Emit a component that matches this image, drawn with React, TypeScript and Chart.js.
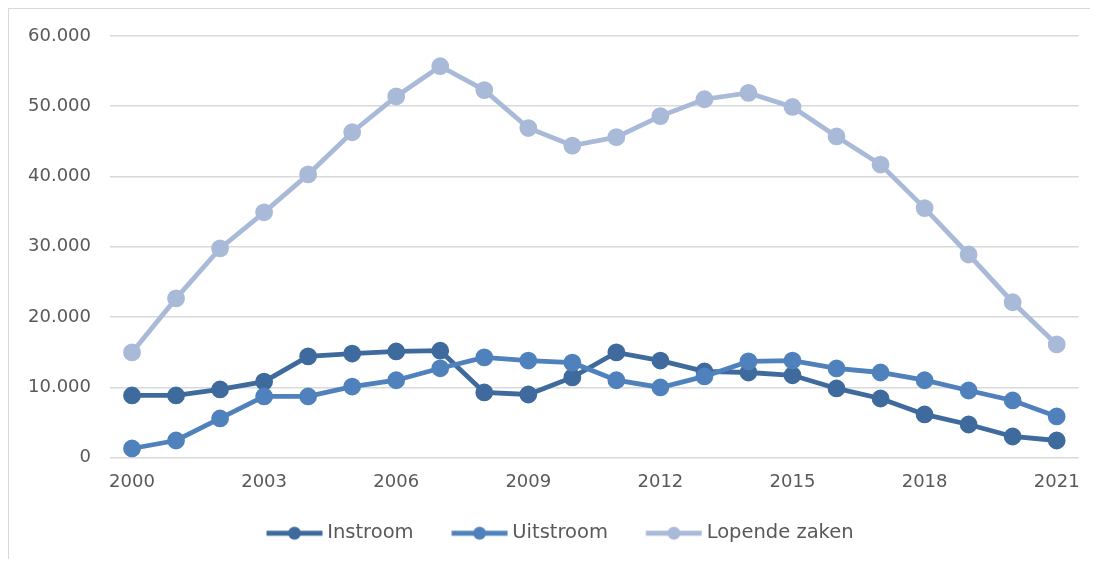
import React, { useEffect, useRef } from "react";
import { Chart, registerables } from "chart.js";

Chart.register(...registerables);

const years = [
  "2000", "2001", "2002", "2003", "2004", "2005", "2006", "2007", "2008", "2009", "2010",
  "2011", "2012", "2013", "2014", "2015", "2016", "2017", "2018", "2019", "2020", "2021",
];

const instroom = [
  8830, 8830, 9690, 10800, 14400, 14800, 15100, 15200, 9260, 8970, 11400,
  14960, 13800, 12250, 12100, 11700, 9830, 8400, 6130, 4700, 2990, 2420,
];

const uitstroom = [
  1280, 2420, 5560, 8690, 8690, 10100, 11000, 12700, 14250, 13800, 13500,
  11000, 9970, 11540, 13680, 13800, 12680, 12100, 11000, 9540, 8120, 5840,
];

const lopendeZaken = [
  14960, 22650, 29770, 34900, 40300, 46300, 51400, 55700, 52300, 46900, 44400,
  45600, 48600, 51000, 51900, 49900, 45700, 41700, 35500, 28900, 22100, 16100,
];

const seriesNames = ["Instroom", "Uitstroom", "Lopende zaken"];
const seriesColors = ["#3E6A9D", "#4F81BD", "#A9BAD9"];

const FONT = "'DejaVu Sans', Verdana, sans-serif";

function fmt(v: number): string {
  const s = Math.round(v).toString();
  return s.replace(/\B(?=(\d{3})+(?!\d))/g, ".");
}

// Legend icon: a short line with a marker, drawn in the right part of the image
function legendIcon(color: string): HTMLCanvasElement {
  const c = document.createElement("canvas");
  c.width = 84;
  c.height = 16;
  const ctx = c.getContext("2d")!;
  ctx.strokeStyle = color;
  ctx.lineWidth = 5;
  ctx.lineCap = "butt";
  ctx.beginPath();
  ctx.moveTo(27.5, 8);
  ctx.lineTo(83.5, 8);
  ctx.stroke();
  ctx.fillStyle = color;
  ctx.beginPath();
  ctx.arc(55.5, 8, 6.5, 0, Math.PI * 2);
  ctx.fill();
  return c;
}

const legendShift = {
  id: "legendShift",
  afterLayout(chart: any) {
    const l = chart.legend;
    if (l) {
      l.left -= 5;
      l.right -= 5;
    }
  },
};

export default function App() {
  const ref = useRef<HTMLCanvasElement | null>(null);

  useEffect(() => {
    if (!ref.current) return;
    const icons = seriesColors.map((c) => legendIcon(c));
    const values = [instroom, uitstroom, lopendeZaken];
    const chart = new Chart(ref.current, {
      type: "line",
      data: {
        labels: years,
        datasets: values.map((d, i) => ({
          label: seriesNames[i],
          data: d,
          borderColor: seriesColors[i],
          backgroundColor: seriesColors[i],
          pointBackgroundColor: seriesColors[i],
          pointBorderColor: seriesColors[i],
          borderWidth: 4.8,
          pointRadius: 6.5,
          pointHoverRadius: 6.5,
          pointStyle: "circle",
          tension: 0,
          order: 2 - i,
        })),
      },
      options: {
        animation: false,
        responsive: false,
        maintainAspectRatio: false,
        layout: { padding: { left: 18, right: 9, top: 27, bottom: 6 } },
        scales: {
          x: {
            type: "category",
            offset: true,
            afterFit: (scale: any) => {
              scale.paddingLeft = 0;
              scale.paddingRight = 0;
            },
            grid: { display: false, drawTicks: false },
            border: { display: false },
            ticks: {
              autoSkip: false,
              maxRotation: 0,
              padding: 16,
              color: "#595959",
              font: { family: FONT, size: 18, lineHeight: 1 },
              callback: (_v: any, i: number) => (i % 3 === 0 ? years[i] : ""),
            },
          },
          y: {
            min: 0,
            max: 60000,
            afterFit: (scale: any) => {
              scale.width = 83;
              scale.paddingTop = 0;
              scale.paddingBottom = 0;
            },
            grid: { color: "#D9D9D9", lineWidth: 1.5, drawTicks: false },
            border: { display: false },
            ticks: {
              stepSize: 10000,
              padding: 19,
              color: "#595959",
              font: { family: FONT, size: 18 },
              callback: (v: any) => fmt(Number(v)),
            },
          },
        },
        plugins: {
          tooltip: { enabled: false },
          legend: {
            position: "bottom",
            labels: {
              usePointStyle: true,
              pointStyleWidth: 73,
              padding: 16,
              color: "#595959",
              font: { family: FONT, size: 19.5 },
              sort: (a: any, b: any) => a.datasetIndex - b.datasetIndex,
              generateLabels: (ch: any) =>
                ch.data.datasets.map((ds: any, i: number) => ({
                  text: ds.label,
                  fillStyle: seriesColors[i],
                  strokeStyle: seriesColors[i],
                  lineWidth: 0,
                  pointStyle: icons[i],
                  hidden: false,
                  datasetIndex: i,
                  fontColor: "#595959",
                })),
            },
          },
        },
      },
      plugins: [legendShift],
    });
    return () => chart.destroy();
  }, []);

  return (
    <div
      style={{
        width: 1082,
        height: 551,
        boxSizing: "border-box",
        borderLeft: "1px solid #D9D9D9",
        borderTop: "1px solid #D9D9D9",
        background: "#FFFFFF",
        overflow: "hidden",
      }}
    >
      <canvas ref={ref} width={1081} height={550} style={{ display: "block" }} />
    </div>
  );
}
